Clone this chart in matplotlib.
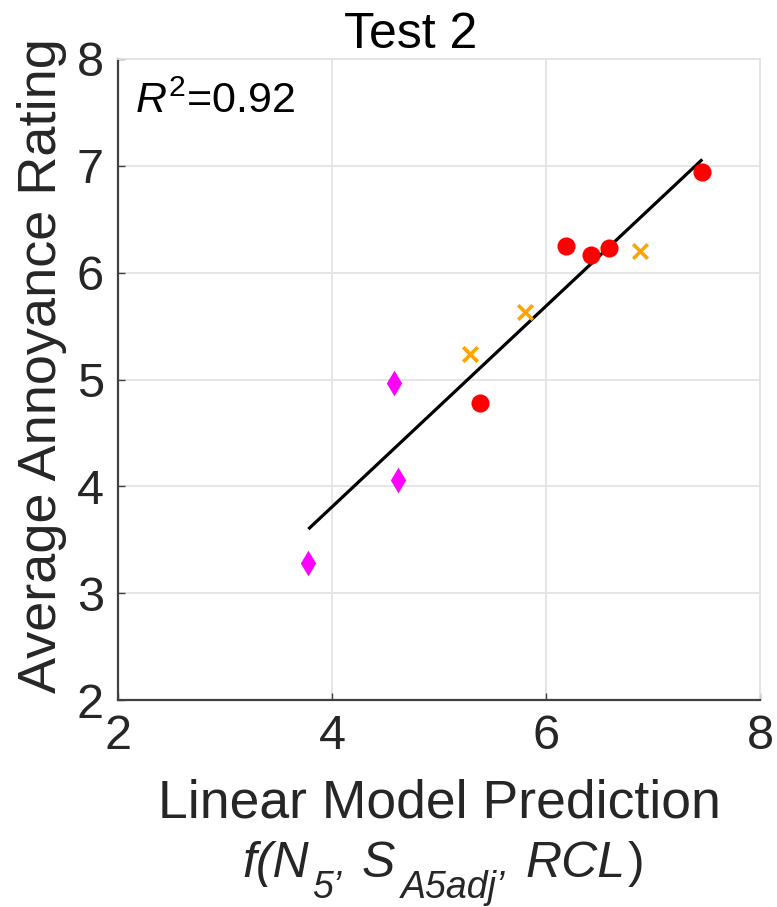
import matplotlib
matplotlib.use("Agg")
import matplotlib.pyplot as plt

plt.rcParams['font.family'] = ['Liberation Sans', 'DejaVu Sans']
plt.rcParams['mathtext.fontset'] = 'custom'
plt.rcParams['mathtext.rm'] = 'Liberation Sans'
plt.rcParams['mathtext.it'] = 'Liberation Sans:italic'

red_x = [5.38, 6.19, 6.42, 6.59, 7.46]
red_y = [4.78, 6.25, 6.17, 6.23, 6.94]
orange_x = [5.29, 5.80, 6.88]
orange_y = [5.24, 5.63, 6.20]
magenta_x = [4.58, 4.62, 3.78]
magenta_y = [4.97, 4.06, 3.28]
fit_x = [3.79, 7.45]
fit_y = [3.61, 7.05]
ticks = [2, 4, 6, 8]
yticks = [2, 3, 4, 5, 6, 7, 8]

W, H = 777, 907
fig = plt.figure(figsize=(W/100, H/100), dpi=100)
L, R, T, B = 118, 760, 59, 700
ax = fig.add_axes([L/W, 1-B/H, (R-L)/W, (B-T)/H])

ax.grid(True, color='#e3e3e3', linewidth=1.3)
ax.set_axisbelow(True)
ax.plot(fit_x, fit_y, color='black', linewidth=2.3, zorder=3)
ax.scatter(red_x, red_y, marker='o', s=170, color='#ff0000', zorder=4, linewidths=0)
ax.scatter(orange_x, orange_y, marker='x', s=110, color='#ffa500', zorder=4, linewidths=2.6)
ax.scatter(magenta_x, magenta_y, marker='d', s=170, color='#ff00ff', zorder=4, linewidths=0)

ax.set_xlim(2, 8)
ax.set_ylim(2, 8)
ax.set_xticks(ticks)
ax.set_yticks(yticks)
for side in ['left', 'bottom']:
    ax.spines[side].set_color('#404040')
    ax.spines[side].set_linewidth(1.6)
for side in ['top', 'right']:
    ax.spines[side].set_color('#e3e3e3')
    ax.spines[side].set_linewidth(1.3)
ax.tick_params(labelsize=35, colors='#404040', direction='in', length=5, width=1.0, pad=10)
for lbl in ax.get_xticklabels() + ax.get_yticklabels():
    lbl.set_color('#262626')

fig.text(411/W, 1-48/H, 'Test 2', fontsize=36, ha='center', va='baseline', color='black')
fig.text(42/W, 1-366/H, 'Average Annoyance Rating', fontsize=39, rotation=90,
         ha='center', va='center', color='#262626')
fig.text((L+R)/2/W, 1-817/H, 'Linear Model Prediction', fontsize=38.5,
         ha='center', va='baseline', color='#262626')

# second x-label line built from pieces with large, low subscripts
renderer = fig.canvas.get_renderer()
main_fs, sub_fs = 36, 27
base_y, sub_y = 877, 898
# (text, is_subscript, gap_before_px, italic)
pieces = [('f(N', False, 0, True), ('5’', True, 4, True), ('S', False, 20, True),
          ('A5adj’', True, 6, True), ('RCL', False, 20, True), (')', False, 2, False)]
items = []
total = 0
for txt, sub, gap, it in pieces:
    t = fig.text(0, 1-(sub_y if sub else base_y)/H, txt, fontsize=sub_fs if sub else main_fs,
                 style='italic' if it else 'normal', ha='left', va='baseline', color='#262626')
    w = t.get_window_extent(renderer).width
    items.append((t, gap, w))
    total += gap + w
x = (L+R)/2 + 4 - total/2
for t, gap, w in items:
    x += gap
    t.set_x(x/W)
    x += w

ax.text(0.026, 0.933, '$R^2$=0.92', transform=ax.transAxes, fontsize=31, va='center',
        color='black')

fig.savefig('out.png', dpi=100)
